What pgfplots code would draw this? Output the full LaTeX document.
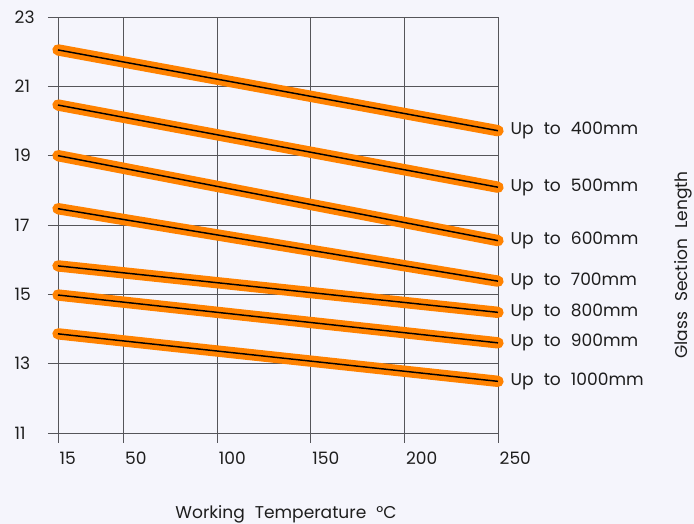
\documentclass[border=0pt]{standalone}
\usepackage{pgfplots}
\pgfplotsset{compat=1.18}
\usepackage{pgfplotstable}
\usepackage{fontspec}
\setmainfont[WordSpace=2.2]{Poppins}
\definecolor{bgc}{RGB}{245,245,252}
\definecolor{org}{RGB}{255,130,0}
\definecolor{grd}{RGB}{85,85,90}
\definecolor{txt}{RGB}{30,30,30}

\pgfplotstableread{
x a b c d e f g
15 22.05 20.46 19.00 17.47 15.82 14.98 13.86
250 19.72 18.09 16.55 15.38 14.48 13.60 12.49
}\datatab

\begin{document}
\begin{tikzpicture}[x=1pt,y=1pt,font=\fontsize{12.8}{15}\selectfont]
\fill[bgc] (-43.5,-68.25) rectangle (477,324.75);
\begin{axis}[at={(0,0)},anchor=south west,
  scale only axis, width=330pt, height=312pt,
  xmin=15, xmax=250, ymin=11, ymax=23,
  xtick={15,50,100,150,200,250},
  ytick={11,13,15,17,19,21,23},
  grid=major,
  grid style={grd, line width=0.7pt},
  axis line style={grd, line width=0.7pt},
  xtick pos=left, ytick pos=left,
  tick align=outside,
  major tick length=7.5pt,
  tick style={grd, line width=0.7pt},
  /pgf/number format/assume math mode=true,
  tick label style={font=\fontsize{12.8}{15}\selectfont, text=txt},
  xticklabel style={anchor=north west, xshift=-2.25pt, yshift=-3.5pt},
  yticklabel style={anchor=west, xshift=-28.5pt},
  clip=false,
]
\pgfplotsinvokeforeach{a,b,c,d,e,f,g}{
  \addplot[org, line width=8.5pt, line cap=round] table[x=x, y=#1]{\datatab};
  \addplot[black, line width=1.1pt] table[x=x, y=#1]{\datatab};
}
\node[anchor=west, text=txt, xshift=6pt] at (axis cs:250,19.72) {Up to 400mm};
\node[anchor=west, text=txt, xshift=6pt] at (axis cs:250,18.09) {Up to 500mm};
\node[anchor=west, text=txt, xshift=6pt] at (axis cs:250,16.55) {Up to 600mm};
\node[anchor=west, text=txt, xshift=6pt] at (axis cs:250,15.38) {Up to 700mm};
\node[anchor=west, text=txt, xshift=6pt] at (axis cs:250,14.48) {Up to 800mm};
\node[anchor=west, text=txt, xshift=6pt] at (axis cs:250,13.60) {Up to 900mm};
\node[anchor=west, text=txt, xshift=6pt] at (axis cs:250,12.49) {Up to 1000mm};
\end{axis}
\node[text=txt, rotate=90] at (468.75,126) {Glass Section Length};
\node[text=txt] at (171,-61) {Working Temperature °C};
\pgfresetboundingbox
\path[use as bounding box] (-43.5,-68.25) rectangle (477,324.75);
\end{tikzpicture}
\end{document}
